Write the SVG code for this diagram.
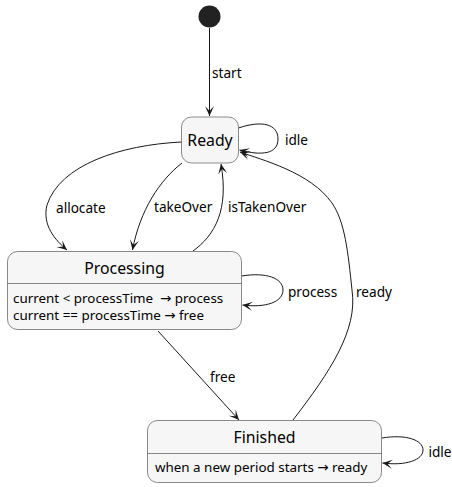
<svg xmlns="http://www.w3.org/2000/svg" width="452" height="487" viewBox="0 0 452 487">
<style>
.box{fill:#F6F6F6;stroke:#181818;stroke-width:0.5}
.sep{stroke:#181818;stroke-width:0.5}
.edge{fill:none;stroke:#181818;stroke-width:1;marker-end:url(#arr)}
.t{font-family:"Noto Sans","DejaVu Sans",sans-serif;fill:#000;white-space:pre}
.title{font-size:15.8px;text-anchor:middle}
.body{font-size:13.4px}
.lbl{font-size:13.6px}
</style>
<defs>
<marker id="arr" viewBox="-11 -6 12 12" refX="0" refY="0" markerWidth="12" markerHeight="12" markerUnits="userSpaceOnUse" orient="auto">
<path d="M0,0 L-10,-4.5 L-5,0 L-10,4.5 Z" fill="#181818"/>
</marker>
</defs>
<g id="connectors">
<path class="edge" d="M209.5,28 L209.5,116"/>
<path class="edge" d="M238.5,128 C262,120 278,124 278,139 C278,154 262,156 239.5,150"/>
<path class="edge" d="M181.5,142 C120,145 60,165 47,205 C42,225 55,240 67,250"/>
<path class="edge" d="M182,163 C160,180 140,210 132.5,250"/>
<path class="edge" d="M193,251 C215,235 229,210 221,164"/>
<path class="edge" d="M241.5,276 C266,272 283,278 283,290 C283,302 266,308 242.5,305"/>
<path class="edge" d="M293,420 C330,372 358,330 352,290 C348,252 345,222 332,203 C310,172 262,160 240,152"/>
<path class="edge" d="M158,331 L239,420"/>
<path class="edge" d="M382,438 C406,434 423,440 423,450 C423,460 406,466 382.5,463"/>
</g>
<g id="labels">
<text class="t lbl" x="212" y="78">start</text>
<text class="t lbl" x="285" y="145">idle</text>
<text class="t lbl" x="56" y="213">allocate</text>
<text class="t lbl" x="154" y="212">takeOver</text>
<text class="t lbl" x="228" y="212">isTakenOver</text>
<text class="t lbl" x="288" y="297">process</text>
<text class="t lbl" x="356" y="297">ready</text>
<text class="t lbl" x="210" y="382">free</text>
<text class="t lbl" x="428.5" y="457">idle</text>
</g>
<g id="initial">
<circle cx="209.5" cy="16.5" r="11" fill="#222222"/>
</g>
<g id="Ready">
<rect class="box" x="181.5" y="117" width="57" height="46" rx="10"/>
<text class="t title" x="210" y="146">Ready</text>
</g>
<g id="Processing">
<rect class="box" x="7.5" y="251.5" width="234" height="78" rx="10"/>
<line class="sep" x1="7.5" y1="283.5" x2="241.5" y2="283.5"/>
<text class="t title" x="124.5" y="274">Processing</text>
<text class="t body" x="13" y="302.5" xml:space="preserve">current &lt; processTime  → process</text>
<text class="t body" x="13" y="320">current == processTime → free</text>
</g>
<g id="Finished">
<rect class="box" x="147.5" y="420.5" width="234" height="62" rx="10"/>
<line class="sep" x1="147.5" y1="453.5" x2="381.5" y2="453.5"/>
<text class="t title" x="264.5" y="443">Finished</text>
<text class="t body" x="155" y="472">when a new period starts → ready</text>
</g>
</svg>
